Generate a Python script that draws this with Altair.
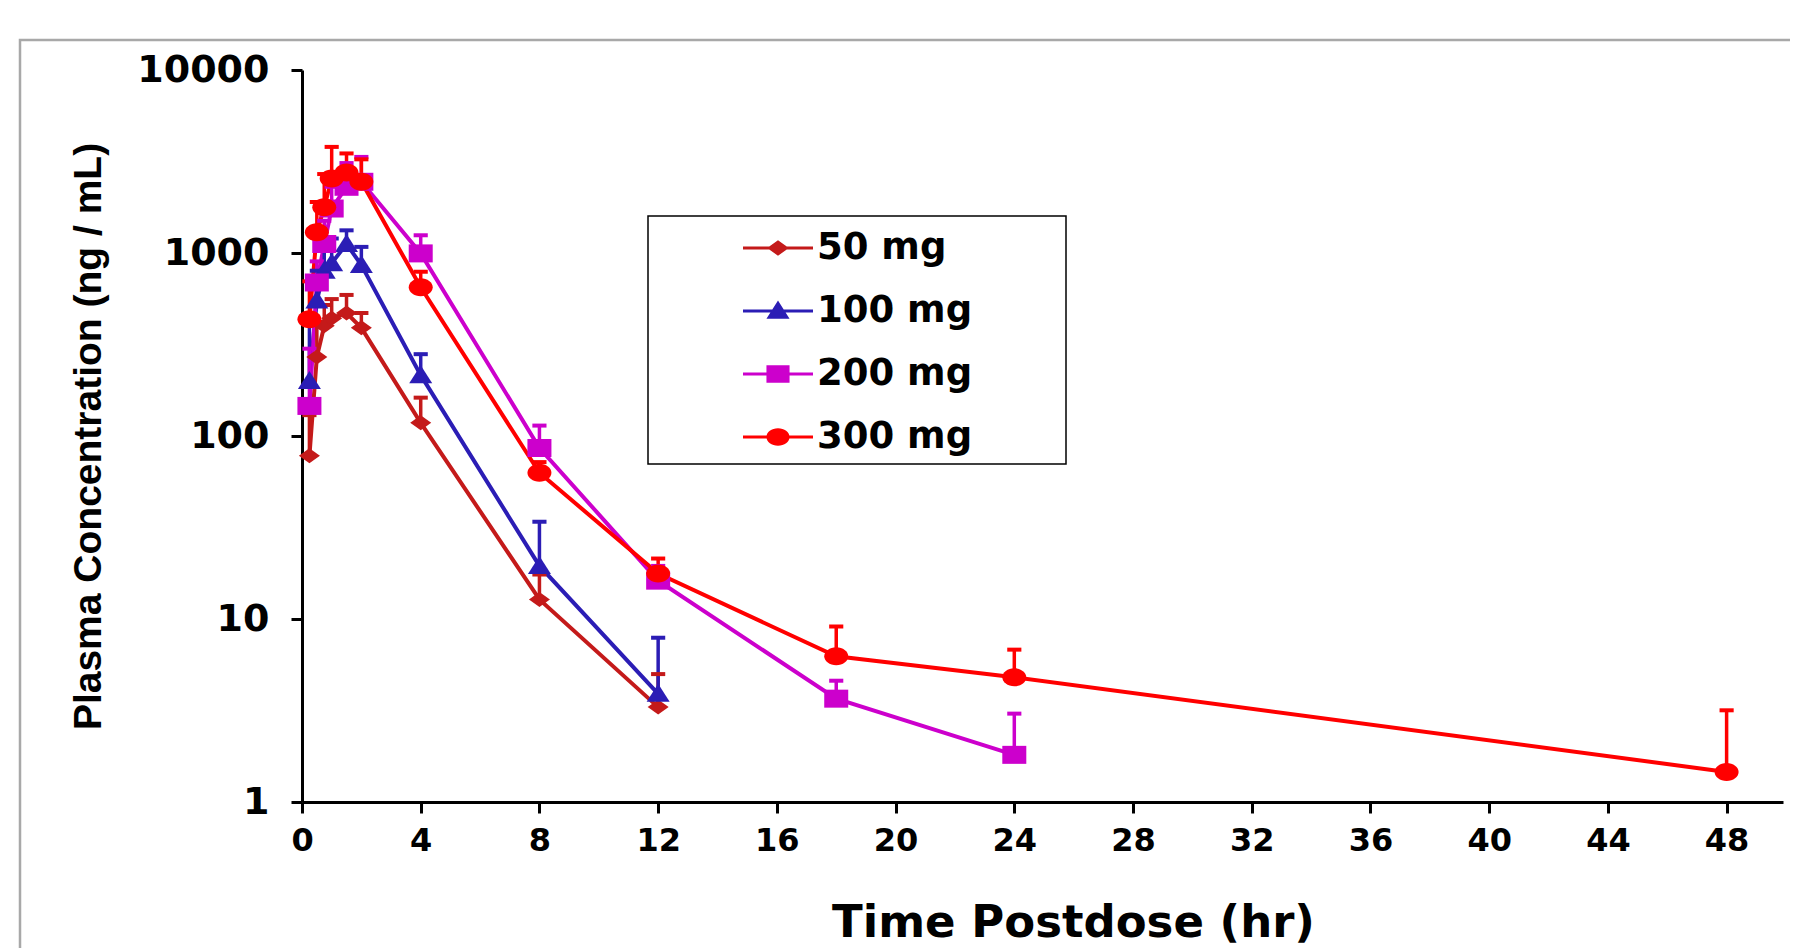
import altair as alt
import pandas as pd

series_names = ["50 mg", "100 mg", "200 mg", "300 mg"]
series_colors = ["#C41A1A", "#2B1DB5", "#CC00CC", "#FF0000"]

# plot markers (slightly wider than tall, like the reference): diamond, triangle, square, circle
marker_shapes = [
    "M0,-0.75L1.05,0L0,0.75L-1.05,0Z",
    "M0,-1L1.15,0.8L-1.15,0.8Z",
    "M-1.2,-0.9H1.2V0.9H-1.2Z",
    "M-1.2,0A1.2,0.9 0 1,1 1.2,0A1.2,0.9 0 1,1 -1.2,0Z",
]

times_50 = [0.25, 0.5, 0.75, 1, 1.5, 2, 4, 8, 12]
conc_50 = [78, 270, 400, 440, 470, 390, 118, 12.8, 3.3]
upper_50 = [130, 420, 520, 560, 590, 470, 162, 17.5, 5.0]

times_100 = [0.25, 0.5, 0.75, 1, 1.5, 2, 4, 8, 12]
conc_100 = [200, 550, 800, 880, 1120, 860, 215, 19.5, 3.9]
upper_100 = [420, 800, 1050, 1200, 1330, 1080, 280, 34, 7.9]

times_200 = [0.25, 0.5, 0.75, 1, 1.5, 2, 4, 8, 12, 18, 24]
conc_200 = [146, 690, 1120, 1750, 2300, 2450, 995, 86, 16.2, 3.67, 1.81]
upper_200 = [300, 900, 1500, 2300, 3100, 3350, 1250, 114, 19.5, 4.6, 3.04]

times_300 = [0.25, 0.5, 0.75, 1, 1.5, 2, 4, 8, 12, 18, 24, 48]
conc_300 = [435, 1300, 1780, 2550, 2750, 2450, 650, 63, 17.7, 6.25, 4.8, 1.46]
upper_300 = [700, 1900, 2700, 3800, 3500, 3250, 790, 72, 21.4, 9.1, 6.8, 3.17]

x_ticks = [0, 4, 8, 12, 16, 20, 24, 28, 32, 36, 40, 44, 48]
y_ticks = [1, 10, 100, 1000, 10000]

x_title = "Time Postdose (hr)"
y_title = "Plasma Concentration (ng / mL)"

rows = []
for name, ts, cs, us in [
    ("50 mg", times_50, conc_50, upper_50),
    ("100 mg", times_100, conc_100, upper_100),
    ("200 mg", times_200, conc_200, upper_200),
    ("300 mg", times_300, conc_300, upper_300),
]:
    for t, c, u in zip(ts, cs, us):
        rows.append({"dose": name, "time": t, "conc": c, "upper": u})
df = pd.DataFrame(rows)

# legend symbols: a thin bar (the line) plus the marker, in unit space
legend_paths = [
    "M-1,-0.04H1V0.04H-1Z M0,-0.22L0.31,0L0,0.22L-0.31,0Z",
    "M-1,-0.04H1V0.04H-1Z M0,-0.3L0.33,0.22L-0.33,0.22Z",
    "M-1,-0.04H1V0.04H-1Z M-0.33,-0.25H0.33V0.25H-0.33Z",
    "M-1,-0.04H1V0.04H-1Z M-0.33,0A0.33,0.25 0 1,1 0.33,0A0.33,0.25 0 1,1 -0.33,0Z",
]

x_axis = alt.Axis(
    values=x_ticks, title=x_title, labelFontSize=32, labelPadding=12,
    labelFlush=False, labelOverlap=False,
    titleFont="DejaVu Sans", titleFontSize=45, titleFontWeight="bold",
    titleColor="black", titleX=771, titleY=120, titleBaseline="middle",
    titleAlign="center",
)
y_axis = alt.Axis(
    values=y_ticks, format="d", title=y_title, labelFontSize=38, labelPadding=22,
    labelFlush=False, labelOverlap=False,
    titleFont="Liberation Sans", titleFontSize=39, titleFontWeight="bold",
    titleColor="black", titleX=-214, titleY=366, titleAngle=270,
    titleBaseline="middle", titleAlign="center",
)
x_scale = alt.Scale(domain=[0, 49.9], nice=False)
y_scale = alt.Scale(type="log", domain=[1, 10000], nice=False)

X = alt.X("time:Q", scale=x_scale, axis=x_axis)
Y = alt.Y("conc:Q", scale=y_scale, axis=y_axis)
Yup = alt.Y("upper:Q", scale=y_scale, axis=y_axis)


def color_enc(legend=None):
    return alt.Color("dose:N", scale=alt.Scale(domain=series_names, range=series_colors),
                     legend=legend)


base = alt.Chart(df)

lines = base.mark_line(strokeWidth=4).encode(x=X, y=Y, color=color_enc())

err = base.mark_rule(strokeWidth=3.5).encode(
    x=X, y=Y, y2=alt.Y2("upper:Q"), color=color_enc()
)

caps = base.mark_point(shape="stroke", size=200, strokeWidth=4, filled=False, opacity=1).encode(
    x=X, y=Yup, color=color_enc()
)

points = base.mark_point(filled=True, opacity=1, size=400).encode(
    x=X, y=Y, color=color_enc(),
    shape=alt.Shape("dose:N", scale=alt.Scale(domain=series_names, range=marker_shapes), legend=None),
)

leg = alt.Legend(
    orient="none", legendX=441, legendY=143, title=None,
    labelFont="DejaVu Sans", labelFontWeight="bold", labelFontSize=37,
    labelColor="black", symbolSize=4900, symbolStrokeWidth=0, rowPadding=10,
    labelOffset=4, padding=0, symbolOpacity=1, labelLimit=400,
)
legend_layer = base.transform_filter("datum.conc < 0").mark_point(filled=True, opacity=1).encode(
    x=X, y=Y, color=color_enc(leg),
    shape=alt.Shape("dose:N", scale=alt.Scale(domain=series_names, range=legend_paths), legend=leg),
)

one = pd.DataFrame({"k": [0]})
legend_box = alt.Chart(one).mark_rect(filled=False, stroke="black", strokeWidth=1.5).encode(
    x=alt.value(346), x2=alt.value(764), y=alt.value(146), y2=alt.value(394)
)
frame = alt.Chart(one).mark_rect(filled=False, stroke="#A8A8A8", strokeWidth=2.5).encode(
    x=alt.value(-282), x2=alt.value(1700), y=alt.value(-30), y2=alt.value(1000)
)

chart = alt.layer(frame, legend_box, lines, err, caps, points, legend_layer).resolve_scale(
    color="independent", shape="independent"
).properties(
    width=1481, height=732,
    autosize=alt.AutoSizeParams(type="none"),
    padding={"left": 294, "top": 62, "right": 7, "bottom": 146},
    background="white",
).configure_view(stroke=None).configure_axis(
    grid=False, domainColor="black", domainWidth=3, tickColor="black",
    tickWidth=3, tickSize=11, labelFont="DejaVu Sans", labelFontWeight="bold",
    labelColor="black",
)

chart.save("out.html", embed_options={"renderer": "svg", "actions": False})
